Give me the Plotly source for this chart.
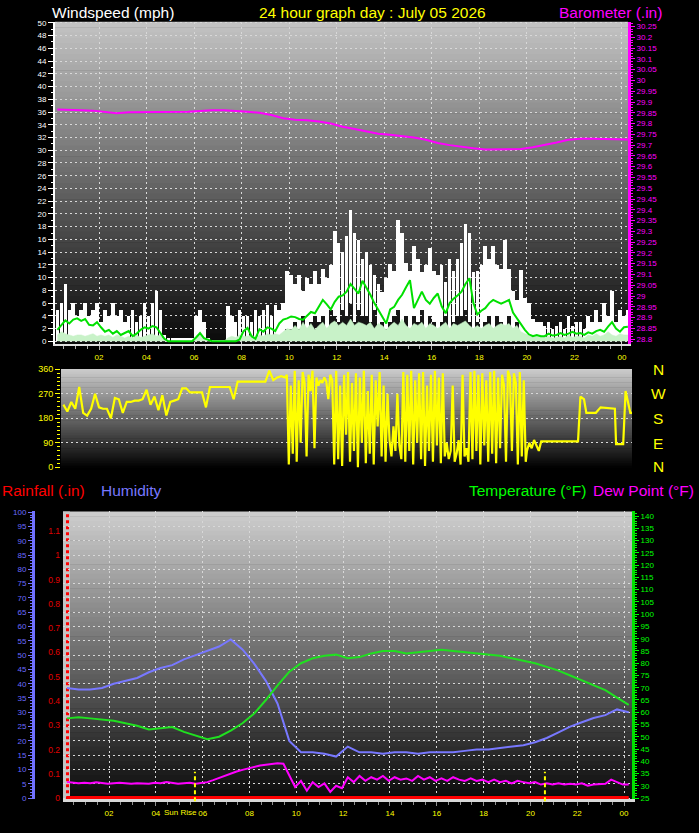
import numpy as np
import plotly.graph_objects as go

W, H = 699, 833

# ---------------- data ----------------
hour_ticks = [2, 4, 6, 8, 10, 12, 14, 16, 18, 20, 22, 24]
hour_labels = ["02", "04", "06", "08", "10", "12", "14", "16", "18", "20", "22", "00"]

# Top panel: 10-minute samples, 00:15 .. 24:15 (mph)
wind_gust = [
    5, 6, 9, 5, 6, 4,
    5, 6, 4, 5, 6, 3,
    5, 4, 6, 4, 5, 3,
    4, 5, 3, 4, 6, 4,
    6, 8, 5, 1, 0.5, 0.5,
    0.5, 0.5, 0.5, 0.5, 0.5, 4,
    5, 3, 0.5, 0.3, 0.3, 0.3,
    0.3, 5.6, 4, 3, 5, 4,
    4, 3, 5, 4, 5, 5.7,
    4, 5.7, 5, 6, 11, 10.4,
    9, 10.4, 8, 10, 9, 11,
    9, 11.4, 10, 12, 17.4, 15.5,
    14, 16.6, 20.7, 17, 16, 12.9,
    14, 12, 10.4, 9, 7.8, 10,
    12.1, 11, 19.1, 17, 12.4, 11,
    15, 13, 10.9, 12, 14.7, 11,
    10.4, 12, 9.3, 12.9, 11, 13,
    15.5, 18.4, 17, 10.9, 11, 12,
    15, 13, 15, 12, 11.4, 16,
    11.4, 8, 6.5, 11.2, 6.8, 6,
    3.6, 3, 3, 2.5, 3, 2,
    2.5, 3, 2, 4, 2.5, 3,
    3, 2, 4, 3, 5, 3,
    6, 4, 8, 3, 5, 4,
    5,
]
wind_lull = [
    0, 0, 0, 0, 0, 0,
    0, 0, 0, 0, 0, 0,
    0, 0, 0, 0, 0, 0,
    0, 0, 0, 0, 0, 0,
    0, 0, 0, 0, 0, 0,
    0, 0, 0, 0, 0, 0,
    0, 0, 0, 0, 0, 0,
    0, 0, 0, 0, 0, 0,
    0, 0, 0, 0, 0, 0,
    0, 1, 0, 1, 2, 2,
    3, 2, 4, 2, 3, 4,
    3, 4, 2, 5, 4, 3,
    5, 4, 6, 3, 5, 4,
    4, 3, 5, 2, 3, 2,
    3, 4, 5, 3, 4, 2,
    4, 3, 5, 2, 4, 3,
    2, 3, 4, 2, 3, 4,
    4, 5, 3, 2, 3, 2,
    3, 4, 2, 4, 3, 2,
    4, 2, 3, 1, 1, 0,
    0, 0, 0, 0, 0, 0,
    0, 0, 0, 0, 0, 0,
    0, 0, 0, 0, 0, 0,
    0, 0, 0, 0, 0, 0,
    0,
]
wind_speed = [
    1, 1.5, 1.2, 1, 0.8, 1,
    1, 0.8, 1, 1.2, 0.8, 1,
    0.8, 1, 0.6, 1, 0.8, 0.5,
    0.8, 0.5, 1, 0.6, 0.8, 1,
    1.2, 0.8, 1, 0.3, 0, 0,
    0, 0, 0, 0, 0, 0.8,
    1, 0.5, 0, 0, 0, 0,
    0, 0.5, 0.8, 0.6, 1, 0.8,
    0.8, 1, 0.6, 1, 0.8, 1.2,
    1, 1.2, 1, 1.5, 2, 1.8,
    2.5, 1.8, 3, 2, 2.8, 1.8,
    2.5, 3, 2, 2.8, 3.2, 2.5,
    3, 2.5, 3.5, 2.5, 3, 2.8,
    2.5, 3, 2, 2.8, 2.5, 1.8,
    2.5, 3, 2.5, 3.5, 2.5, 2,
    2.8, 2.5, 3, 2, 2.8, 2.5,
    2, 2.5, 3, 2, 2.8, 2.5,
    2.8, 3.2, 2.5, 2, 2.5, 2,
    2.5, 2.8, 2, 2.5, 2.8, 2.5,
    2.8, 2, 2.5, 1.5, 1.2, 1,
    1, 0.8, 1, 0.6, 0.8, 0.5,
    0.6, 0.8, 0.5, 1, 0.6, 0.8,
    0.8, 0.5, 1, 0.8, 1.2, 0.8,
    1, 1.5, 1, 0.8, 1.2, 1,
    1,
]
wind_avg = [
    1.8, 2.5, 3.3, 2.8, 3.4, 3.6,
    3.2, 3.5, 2.6, 2.5, 3.0, 2.2,
    1.5, 1.8, 1.2, 1.6, 1.0, 1.3,
    1.6, 0.8, 1.2, 1.8, 2.2, 2.0,
    2.4, 2.2, 1.2, 0.4, 0, 0,
    0, 0, 0, 0, 0, 0.6,
    1.3, 0.5, 0.2, 0, 0, 0,
    0, 0, 0, 0, 0.3, 1.6,
    2.1, 0.8, 0.4, 1.9, 1.5, 2.2,
    2.0, 1.6, 2.8, 3.4, 3.6, 3.9,
    3.8, 3.5, 3.4, 4.0, 4.6, 4.4,
    5.5, 6.5, 5.8, 5.0, 6.2, 7.0,
    7.2, 7.8, 9.0, 8.2, 7.5, 9.5,
    8.5, 7.3, 6.0, 5.0, 3.8, 2.8,
    5.0, 5.4, 6.5, 7.3, 8.5, 9.6,
    5.2, 6.5, 7.8, 6.5, 5.9, 6.8,
    7.5, 5.5, 4.4, 6.0, 6.7, 7.2,
    7.8, 9.0, 9.9, 6.0, 4.2, 4.8,
    5.2, 6.0, 6.5, 6.2, 5.9, 6.2,
    6.5, 4.5, 3.6, 2.6, 1.8, 1.1,
    0.8, 1.0, 0.8, 0.8, 1.2, 0.9,
    1.0, 1.3, 1.0, 1.2, 1.5, 1.2,
    1.3, 1.0, 1.4, 1.2, 1.6, 1.8,
    1.5, 2.3, 3.0, 2.0, 1.5, 2.2,
    2.3,
]
wind_t = np.linspace(0.25, 24.25, len(wind_gust))

# Barometer, half-hour samples (in)
baro = [
    29.865, 29.865, 29.862, 29.86, 29.855, 29.848, 29.852, 29.852, 29.853, 29.853,
    29.852, 29.855, 29.858, 29.862, 29.862, 29.86, 29.855, 29.85, 29.84, 29.825,
    29.818, 29.815, 29.81, 29.8, 29.785, 29.775, 29.765, 29.753, 29.748, 29.742,
    29.735, 29.725, 29.71, 29.70, 29.692, 29.685, 29.68, 29.68, 29.68, 29.682,
    29.69, 29.70, 29.712, 29.725, 29.73, 29.73, 29.728, 29.726, 29.726,
]
baro_t = np.linspace(0.25, 24.25, len(baro))

# Middle panel: wind direction (degrees)
dir_am = [
    230, 205, 240, 215, 295, 200, 190, 215, 270, 220,
    215, 215, 180, 255, 250, 200, 240, 240, 245, 245,
    250, 285, 230, 260, 210, 265, 190, 240, 245, 250,
    290, 290, 275, 275, 275, 275, 220, 295, 295, 295,
    295, 295, 295, 250, 315, 315, 315, 315, 315, 315,
    315, 315, 355, 320, 330, 335, 330,
]
dir_am_t = np.linspace(0.5, 9.83, len(dir_am))
dir_gusty = [
    340, 10, 300, 50, 355, 20,
    320, 90, 350, 310, 40, 340, 280, 355, 70, 330, 300,
    320, 310, 330, 315, 250, 340, 320,
    10, 355, 30, 300, 5, 340, 120, 350, 20, 310, 60, 345, 0, 330,
    90, 355, 15, 280, 50, 340, 10, 320, 150, 350, 40, 300, 20, 270,
    100, 40, 150, 60, 270, 80, 30,
    350, 20, 340, 60, 355, 10, 320, 90, 345,
    30, 350, 5, 300, 60, 340, 20, 355, 80, 330, 15, 345, 40,
    90, 30, 60, 300, 20, 50, 100, 10, 340, 40, 70, 20,
    350, 30, 355, 60, 340, 10, 345, 80, 320, 20, 350, 50, 355, 15, 330, 70,
    340, 300, 20, 355, 330, 60, 345, 310, 10, 350, 40, 320, 20,
]
dir_gusty_t = np.linspace(9.9, 19.95, len(dir_gusty))
dir_pm_t = [20.0, 20.1, 20.2, 20.3, 20.4, 20.5, 20.6, 22.15, 22.25, 22.4,
            22.5, 22.9, 23.1, 23.7, 23.75, 24.05, 24.15, 24.35, 24.42]
dir_pm = [60, 90, 70, 100, 80, 60, 95, 95, 260, 250,
          200, 200, 220, 215, 85, 85, 280, 200, 200]

# Bottom panel: half-hour samples 00:12 .. 24:12
humidity = [
    38.5, 38, 38, 38.5, 40, 41, 42, 44, 45.5, 46.5,
    48.5, 50, 51.5, 53, 55.5, 52, 47, 41, 33, 20,
    16, 16, 15.5, 14.5, 18, 16, 16, 15.5, 16, 16,
    15.5, 16, 16, 16, 16.5, 17, 17, 17.5, 18, 18.5,
    19.5, 21, 23, 25, 26.5, 28, 29, 31, 30,
]
temperature = [
    57.5, 58, 57.5, 57, 56.5, 55.5, 54.5, 53, 53.5, 54,
    52, 50.5, 49, 50, 52.5, 55.5, 59.5, 65, 71, 76.5,
    80, 82, 83, 83.5, 82, 82.5, 84, 85, 85, 84,
    84.5, 85, 85.5, 85, 84.5, 84, 83.5, 83, 82, 81,
    80, 78.5, 77, 75, 73, 71, 69, 66, 63,
]
half_t = np.linspace(0.2, 24.2, len(humidity))
dewpoint = [
    31.5, 31.3, 31, 31.2, 31, 31.4, 31, 30.8, 31, 31.2, 31, 30.8,
    31, 31, 30.8, 31.2, 31, 31.5, 31, 30.8, 31, 31.2, 30.8, 31,
    31.5, 32.3, 33.2, 34.2, 35, 35.8, 36.5, 37.2, 37.8, 38.3, 38.6, 39, 39.2, 39,
    34, 29.5, 32, 28, 31.5, 29.5, 31, 27.5, 30, 29,
    33.5, 31.5, 34, 32, 33.5, 32.5, 34, 32, 33.5, 32.5,
    33, 32, 34, 32.5, 33.5, 32, 33, 32, 33.5, 32.5,
    32, 33, 32, 32.5, 31.5, 32.5, 31.5, 32, 31, 32,
    31.5, 31, 31.5, 30.5, 31, 30.5, 31, 30.5, 30.8, 30.5,
    31, 30, 30.5, 30.5, 30.8, 32.5, 31.5, 30.5, 30.5,
]
dew_t = np.linspace(0.2, 24.2, len(dewpoint))
rain_t = [0.2, 24.2]
rain = [0.0, 0.0]
sunrise_h = 5.67
sunset_h = 20.62

# ---------------- helpers ----------------
FONT = "Liberation Sans"


def px(x):
    return x / W


def py(y):
    return 1 - y / H


def gradient(x0, x1, y0, y1, top, bottom, n=60):
    out = []
    for i in range(n):
        f = (i + 0.5) / n
        c = tuple(int(round(top[k] + (bottom[k] - top[k]) * f)) for k in range(3))
        ya = y0 + (y1 - y0) * i / n
        yb = y0 + (y1 - y0) * (i + 1) / n + 0.6
        out.append(dict(type="rect", xref="paper", yref="paper",
                        x0=px(x0), x1=px(x1), y0=py(min(yb, y1)), y1=py(ya),
                        fillcolor="rgb(%d,%d,%d)" % c, line=dict(width=0), layer="below"))
    return out


GRID = dict(showgrid=True, gridcolor="#d8d8d8", griddash="2px,3px", gridwidth=1)

fig = go.Figure()

# ---- top panel ----
gust_height = np.array(wind_gust) - np.array(wind_lull)
fig.add_trace(go.Bar(x=wind_t, y=gust_height, base=wind_lull, width=0.15,
                     marker=dict(color="#ffffff", line=dict(width=0)),
                     xaxis="x", yaxis="y"))
fig.add_trace(go.Scatter(x=wind_t, y=wind_speed, mode="lines", fill="tozeroy",
                         fillcolor="#c8f2c8", line=dict(color="#c8f2c8", width=0.5),
                         xaxis="x", yaxis="y"))
fig.add_trace(go.Scatter(x=wind_t, y=wind_avg, mode="lines",
                         line=dict(color="#00e000", width=2), xaxis="x", yaxis="y"))
fig.add_trace(go.Scatter(x=baro_t, y=baro, mode="lines",
                         line=dict(color="#ff00ff", width=2), xaxis="x", yaxis="y2"))

# ---- middle panel ----
dir_t = np.concatenate([dir_am_t, dir_gusty_t, dir_pm_t])
dir_v = np.concatenate([dir_am, dir_gusty, dir_pm])
fig.add_trace(go.Scatter(x=dir_t, y=dir_v, mode="lines",
                         line=dict(color="#ffff00", width=2.2), xaxis="x2", yaxis="y3"))

# ---- bottom panel ----
fig.add_trace(go.Scatter(x=rain_t, y=rain, mode="lines",
                         line=dict(color="#ff0000", width=4), xaxis="x3", yaxis="y4"))
fig.add_trace(go.Scatter(x=half_t, y=humidity, mode="lines",
                         line=dict(color="#7878ff", width=2), xaxis="x3", yaxis="y5"))
fig.add_trace(go.Scatter(x=half_t, y=temperature, mode="lines",
                         line=dict(color="#20e020", width=2), xaxis="x3", yaxis="y6"))
fig.add_trace(go.Scatter(x=dew_t, y=dewpoint, mode="lines",
                         line=dict(color="#ff00ff", width=2), xaxis="x3", yaxis="y6"))

shapes = []
shapes += gradient(55, 628, 17, 343, (196, 196, 196), (8, 8, 8))
shapes += gradient(61, 632, 368, 468, (204, 204, 204), (0, 0, 0))
shapes += gradient(63, 632, 512, 803, (206, 206, 206), (10, 10, 10))
shapes.append(dict(type="rect", xref="paper", yref="paper", x0=px(63), x1=px(70),
                   y0=py(803), y1=py(512), fillcolor="#c4c4c4", line=dict(width=0), layer="below"))
shapes.append(dict(type="line", xref="paper", yref="paper", x0=px(67.5), x1=px(67.5),
                   y0=py(803), y1=py(513), line=dict(color="#ff0000", width=3, dash="3px,3px"),
                   layer="below"))
for h in (sunrise_h, sunset_h):
    shapes.append(dict(type="line", xref="x3", yref="paper", x0=h, x1=h,
                       y0=py(805), y1=py(775), line=dict(color="#ffff00", width=2, dash="4px,3px"),
                       layer="above"))

ann = []


def text(x, y, s, color, size=15.5, anchor="left"):
    ann.append(dict(x=px(x), y=py(y), xref="paper", yref="paper", text=s, showarrow=False,
                    xanchor=anchor, yanchor="middle", font=dict(family=FONT, size=size, color=color)))


text(50, 8, "Windspeed (mph)", "#ffffff")
text(372, 8, "24 hour graph day : July 05 2026", "#ffff00", anchor="center")
text(557, 8, "Barometer (.in)", "#ff00ff")
for yy, s in zip([368, 393, 418, 443, 467], ["N", "W", "S", "E", "N"]):
    text(658, yy, s, "#ffff00", anchor="center")
text(0, 491, "Rainfall (.in)", "#ff0000")
text(99, 491, "Humidity", "#7878ff")
text(467, 491, "Temperature (°F)", "#00ff00")
text(591, 491, "Dew Point (°F)", "#ff00ff")
ann.append(dict(x=px(199), y=py(816), xref="paper", yref="paper", text="Sun Rise", showarrow=False,
                xanchor="right", yanchor="middle", font=dict(family=FONT, size=8, color="#ffff00")))

tf = lambda c, s=8: dict(family=FONT, size=s, color=c)

fig.update_layout(
    width=W, height=H, autosize=False,
    margin=dict(l=0, r=0, t=0, b=0, pad=0),
    paper_bgcolor="#000000", plot_bgcolor="rgba(0,0,0,0)",
    showlegend=False, bargap=0,
    shapes=shapes, annotations=ann,
    xaxis=dict(domain=[px(55), px(628)], range=[0.149, 24.255], anchor="y",
               tickmode="array", tickvals=hour_ticks, ticktext=hour_labels, tickfont=tf("#ffff00"),
               ticks="outside", ticklen=4, tickcolor="#b0b0b0",
               showline=True, linecolor="#e0e0e0", linewidth=2, zeroline=False,
               minor=dict(tick0=0, dtick=0.5, ticks="outside", ticklen=3, tickcolor="#b0b0b0", showgrid=False),
               **GRID),
    yaxis=dict(domain=[py(343), py(17)], range=[-0.47, 50.16], anchor="x",
               tick0=0, dtick=2, tickfont=tf("#ffffff"), ticks="outside", ticklen=5, tickcolor="#ffffff",
               showline=True, linecolor="#ffffff", linewidth=2, zeroline=False,
               minor=dict(tick0=0, dtick=1, ticks="outside", ticklen=2, tickcolor="#ffffff", showgrid=False),
               **GRID),
    yaxis2=dict(overlaying="y", side="right", anchor="x", range=[28.776, 30.272],
                tick0=28.8, dtick=0.05, tickformat=".4~r", tickfont=tf("#ff00ff"),
                ticks="outside", ticklen=4, tickcolor="#ff00ff",
                showline=True, linecolor="#ff00ff", linewidth=3, showgrid=False, zeroline=False,
                minor=dict(tick0=28.8, dtick=0.0125, ticks="outside", ticklen=2, tickcolor="#ff00ff")),
    xaxis2=dict(domain=[px(61), px(632)], range=[0.40, 24.42], anchor="y3",
                showticklabels=False, ticks="", showgrid=False, showline=False, zeroline=False),
    yaxis3=dict(domain=[py(468), py(368)], range=[-2.5, 361], anchor="x2",
                tickmode="array", tickvals=[0, 90, 180, 270, 360], tickfont=tf("#ffff00", 9),
                ticks="outside", ticklen=5, tickcolor="#ffff00", showline=False, zeroline=False,
                minor=dict(tick0=0, dtick=15, ticks="outside", ticklen=3, tickcolor="#ffff00", showgrid=False),
                **GRID),
    xaxis3=dict(domain=[px(63), px(632)], range=[0.034, 24.34], anchor="y4",
                tickmode="array", tickvals=hour_ticks, ticktext=hour_labels, tickfont=tf("#ffff00"),
                ticks="outside", ticklen=4, tickcolor="#909090",
                showline=True, linecolor="#d8d8d8", linewidth=3, zeroline=False,
                minor=dict(tick0=0, dtick=0.5, ticks="outside", ticklen=3, tickcolor="#909090", showgrid=False),
                **GRID),
    yaxis4=dict(domain=[py(803), py(512)], range=[-0.0053, 1.1815], anchor="x3",
                tick0=0, dtick=0.1, tickfont=tf("#e00000", 8.5), ticks="", ticklabelstandoff=2,
                showline=False, showgrid=False, zeroline=False),
    yaxis5=dict(overlaying="y4", anchor="free", position=px(33), side="left", range=[-0.45, 100.24],
                tick0=0, dtick=5, tickfont=tf("#6a6aff"), ticks="outside", ticklen=4, tickcolor="#7070ff",
                showline=True, linecolor="#7070ff", linewidth=3, zeroline=False,
                minor=dict(tick0=0, dtick=1, ticks="outside", ticklen=2, tickcolor="#7070ff", showgrid=False),
                **GRID),
    yaxis6=dict(overlaying="y4", anchor="x3", side="right", range=[24.48, 141.9],
                tick0=25, dtick=5, tickfont=tf("#00ff00"), ticks="outside", ticklen=4, tickcolor="#00ff00",
                showline=True, linecolor="#00e000", linewidth=3, showgrid=False, zeroline=False,
                minor=dict(tick0=25, dtick=1, ticks="outside", ticklen=2, tickcolor="#00ff00")),
)

fig.write_html("out.html", config={"displayModeBar": False})
